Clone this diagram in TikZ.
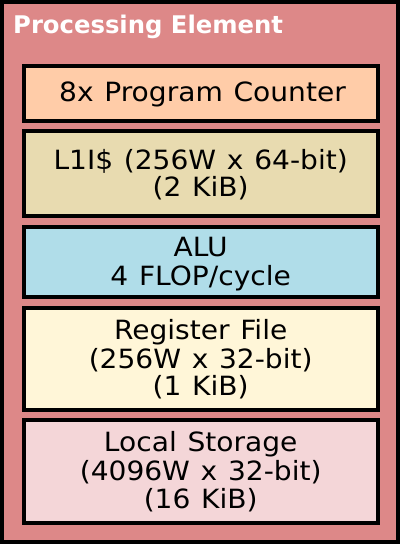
\documentclass[tikz,border=0pt]{standalone}
\usepackage{fontspec}
\setmainfont{DejaVu Sans}
\newfontfamily\bodyfont[FakeStretch=1.06,WordSpace=1.2]{DejaVu Sans}
\definecolor{peoutr}{HTML}{DD8888}
\definecolor{pcfill}{HTML}{FFCCA8}
\definecolor{icfill}{HTML}{E8DBB0}
\definecolor{alufill}{HTML}{B0DDE9}
\definecolor{rffill}{HTML}{FFF6D8}
\definecolor{lsfill}{HTML}{F4D6D8}
\begin{document}
\begin{tikzpicture}[x=1pt,y=-1pt,
  unitbox/.style={draw=black, line width=4pt},
  unittext/.style={anchor=base, inner sep=0pt, font=\bodyfont\fontsize{26.5}{28}\selectfont},
  titletext/.style={anchor=base west, inner sep=0pt, text=white, font=\bfseries\fontsize{24.3}{28}\selectfont}]
\useasboundingbox (0,0) rectangle (400,544);
\draw[fill=peoutr, draw=black, line width=4pt] (2,2) rectangle (398,542);
\node[titletext] (title) at (13,33) {Processing Element};
\draw[unitbox, fill=pcfill] (23.7,66) rectangle (377.7,121);
\draw[unitbox, fill=icfill] (23.7,131) rectangle (377.7,216);
\draw[unitbox, fill=alufill] (23.7,227) rectangle (377.7,296.5);
\draw[unitbox, fill=rffill] (23.7,307.5) rectangle (377.7,409.5);
\draw[unitbox, fill=lsfill] (23.7,420) rectangle (377.7,522.5);
\node[unittext] (pc) at (202.5,101) {8x Program Counter};
\node[unittext] (ic1) at (200.7,169.3) {L1I\$ (256W x 64-bit)};
\node[unittext] (ic2) at (200.7,196.9) {(2 KiB)};
\node[unittext] (alu1) at (200.7,256.7) {ALU};
\node[unittext] (alu2) at (200.7,285) {4 FLOP/cycle};
\node[unittext] (rf1) at (200.7,339.4) {Register File};
\node[unittext] (rf2) at (200.7,368.2) {(256W x 32-bit)};
\node[unittext] (rf3) at (200.7,395.4) {(1 KiB)};
\node[unittext] (ls1) at (200.7,451.7) {Local Storage};
\node[unittext] (ls2) at (200.7,480) {(4096W x 32-bit)};
\node[unittext] (ls3) at (200.7,508) {(16 KiB)};
\end{tikzpicture}
\end{document}
